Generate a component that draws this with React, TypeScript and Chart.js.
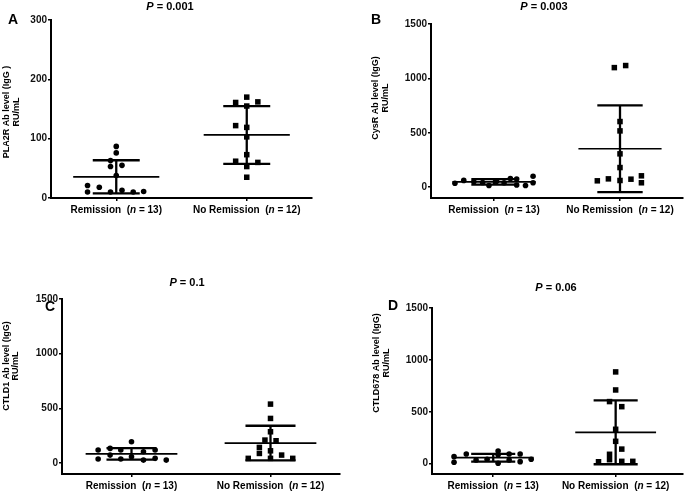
import React, { useEffect, useRef } from 'react';
import { Chart, registerables } from 'chart.js';

Chart.register(...registerables);

// ---------- DATA ----------
const categories = ['Remission', 'No Remission'];
const groupN = [13, 12];

// Panel A: PLA2R Ab level
const pla2rRemission = [87, 76, 63, 55, 53, 38, 21, 18, 10, 10, 13, 10, 11];
const pla2rRemissionJitter = [0, 0, -0.044, 0.044, -0.044, 0, -0.22, -0.13, -0.22, -0.044, 0.044, 0.13, 0.21];
const pla2rNoRemission = [170, 161, 162, 155, 122, 119, 103, 73, 62, 60, 53, 35];
const pla2rNoRemissionJitter = [0, -0.085, 0.085, 0, -0.085, 0, 0, 0, -0.085, 0.085, 0, 0];

// Panel B: CysR Ab level
const cysrRemission = [35, 62, 50, 42, 15, 55, 40, 80, 75, 20, 15, 100, 40];
const cysrRemissionJitter = [-0.31, -0.24, -0.16, -0.09, -0.04, 0.02, 0.08, 0.13, 0.18, 0.18, 0.25, 0.31, 0.31];
const cysrNoRemission = [1099, 1118, 603, 517, 306, 180, 58, 76, 61, 73, 104, 40];
const cysrNoRemissionJitter = [-0.045, 0.045, 0, 0, 0, 0, -0.18, -0.092, 0, 0.087, 0.17, 0.17];

// Panel C: CTLD1 Ab level
const ctld1Remission = [119, 37, 134, 73, 119, 37, 195, 58, 103, 27, 119, 43, 27];
const ctld1RemissionJitter = [-0.24, -0.24, -0.154, -0.154, -0.077, -0.077, 0, 0, 0.086, 0.086, 0.17, 0.17, 0.25];
const ctld1NoRemission = [539, 408, 286, 210, 204, 143, 88, 112, 73, 43, 43, 43];
const ctld1NoRemissionJitter = [0, 0, 0, -0.04, 0.04, -0.08, -0.08, 0, 0.08, -0.16, 0, 0.16];

// Panel D: CTLD678 Ab level
const ctld678Remission = [67, 13, 93, 35, 42, 122, 85, 3, 93, 35, 93, 19, 42];
const ctld678RemissionJitter = [-0.32, -0.32, -0.22, -0.14, -0.05, 0.04, 0.04, 0.04, 0.13, 0.13, 0.22, 0.22, 0.31];
const ctld678NoRemission = [884, 710, 598, 549, 331, 215, 140, 90, 38, 18, 22, 22];
const ctld678NoRemissionJitter = [0, 0, -0.05, 0.05, 0, 0, 0.05, -0.05, -0.05, -0.14, 0.05, 0.14];

const smallTicks = [0, 100, 200, 300];
const largeTicks = [0, 500, 1000, 1500];

// ---------- LAYOUT ----------
const FONT = '"Liberation Sans", Arial, Helvetica, sans-serif';

type Panel = {
  letter: string;
  pValue: string;
  yTitle: string[];
  rem: number[];
  remJ: number[];
  nrem: number[];
  nremJ: number[];
  yMin: number;
  yMax: number;
  yTicks: number[];
  xMax: number;
  pos: { x: number; y: number; w: number; h: number };
  area: { left: number; right: number; top: number; bottom: number };
  letterPos: [number, number];
  titlePos: [number, number];
  yTitlePos: [number, number, number];
};

const panels: Panel[] = [
  {
    letter: 'A', pValue: '0.001', yTitle: ['PLA2R Ab level (IgG )', 'RU/mL'],
    rem: pla2rRemission, remJ: pla2rRemissionJitter, nrem: pla2rNoRemission, nremJ: pla2rNoRemissionJitter,
    yMin: 0, yMax: 300, yTicks: smallTicks, xMax: 2.5,
    pos: { x: 0, y: 0, w: 344, h: 246 },
    area: { left: 51, right: 312, top: 20, bottom: 198 },
    letterPos: [13, 20], titlePos: [170, 7], yTitlePos: [7, 112, 10],
  },
  {
    letter: 'B', pValue: '0.003', yTitle: ['CysR Ab level (IgG)', 'RU/mL'],
    rem: cysrRemission, remJ: cysrRemissionJitter, nrem: cysrNoRemission, nremJ: cysrNoRemissionJitter,
    yMin: -100, yMax: 1500, yTicks: largeTicks, xMax: 2.5,
    pos: { x: 344, y: 0, w: 343, h: 246 },
    area: { left: 87, right: 339, top: 24, bottom: 198 },
    letterPos: [32, 20], titlePos: [200, 7], yTitlePos: [32, 98, 10],
  },
  {
    letter: 'C', pValue: '0.1', yTitle: ['CTLD1 Ab level (IgG)', 'RU/mL'],
    rem: ctld1Remission, remJ: ctld1RemissionJitter, nrem: ctld1NoRemission, nremJ: ctld1NoRemissionJitter,
    yMin: -100, yMax: 1500, yTicks: largeTicks, xMax: 2.5,
    pos: { x: 0, y: 246, w: 344, h: 246 },
    area: { left: 62, right: 340, top: 53, bottom: 228 },
    letterPos: [50, 61], titlePos: [187, 37], yTitlePos: [7, 120, 9],
  },
  {
    letter: 'D', pValue: '0.06', yTitle: ['CTLD678 Ab level (IgG)', 'RU/mL'],
    rem: ctld678Remission, remJ: ctld678RemissionJitter, nrem: ctld678NoRemission, nremJ: ctld678NoRemissionJitter,
    yMin: -100, yMax: 1500, yTicks: largeTicks, xMax: 2.55,
    pos: { x: 344, y: 246, w: 343, h: 246 },
    area: { left: 88, right: 340, top: 62, bottom: 228 },
    letterPos: [49, 60], titlePos: [212, 42], yTitlePos: [33, 117, 10],
  },
];

const MEAN_HALF = 0.33;
const SD_HALF = 0.18;

function meanSd(v: number[]) {
  const m = v.reduce((a, b) => a + b, 0) / v.length;
  const s = Math.sqrt(v.reduce((a, b) => a + (b - m) * (b - m), 0) / (v.length - 1));
  return { m, s };
}

function drawRich(ctx: CanvasRenderingContext2D, parts: { t: string; it?: boolean }[], cx: number, cy: number, size: number) {
  const fontOf = (it?: boolean) => `${it ? 'italic ' : ''}bold ${size}px ${FONT}`;
  let total = 0;
  for (const p of parts) { ctx.font = fontOf(p.it); total += ctx.measureText(p.t).width; }
  let x = cx - total / 2;
  ctx.textAlign = 'left';
  ctx.textBaseline = 'middle';
  for (const p of parts) {
    ctx.font = fontOf(p.it);
    ctx.fillText(p.t, x, cy);
    x += ctx.measureText(p.t).width;
  }
}

const annotPlugin = {
  id: 'annot',
  afterDraw(chart: any, _args: any, opts: any) {
    const p: Panel = opts.panel;
    const ctx: CanvasRenderingContext2D = chart.ctx;
    ctx.save();
    ctx.fillStyle = '#000';
    // panel letter
    ctx.font = `bold 14px ${FONT}`;
    ctx.textAlign = 'center';
    ctx.textBaseline = 'middle';
    ctx.fillText(p.letter, p.letterPos[0], p.letterPos[1]);
    // title
    drawRich(ctx, [{ t: 'P', it: true }, { t: ' = ' + p.pValue }], p.titlePos[0], p.titlePos[1], 11);
    // y title
    ctx.save();
    ctx.translate(p.yTitlePos[0], p.yTitlePos[1]);
    ctx.rotate(-Math.PI / 2);
    ctx.font = `bold 9px ${FONT}`;
    ctx.textAlign = 'center';
    ctx.textBaseline = 'middle';
    p.yTitle.forEach((line, i) => ctx.fillText(line, 0, i * p.yTitlePos[2]));
    ctx.restore();
    // category labels
    const xs = chart.scales.x;
    const yb = chart.chartArea.bottom + 12;
    categories.forEach((c, i) => {
      drawRich(ctx, [{ t: c + '  (' }, { t: 'n', it: true }, { t: ' = ' + groupN[i] + ')' }], xs.getPixelForValue(i + 1), yb, 10);
    });
    ctx.restore();
  },
};

function buildDatasets(p: Panel) {
  const ds: any[] = [];
  const groups = [
    { vals: p.rem, jit: p.remJ, style: 'circle', r: 2.8 },
    { vals: p.nrem, jit: p.nremJ, style: 'rect', r: 3.9 },
  ];
  groups.forEach((g, gi) => {
    const cx = gi + 1;
    const { m, s } = meanSd(g.vals);
    const seg = (pts: { x: number; y: number }[], w: number) => ({
      type: 'line', data: pts, showLine: true, borderColor: '#000', borderWidth: w,
      pointRadius: 0, fill: false, tension: 0, order: 0,
    });
    ds.push(seg([{ x: cx - MEAN_HALF, y: m }, { x: cx + MEAN_HALF, y: m }], 1.7));
    ds.push(seg([{ x: cx - SD_HALF, y: m + s }, { x: cx + SD_HALF, y: m + s }], 2.3));
    ds.push(seg([{ x: cx - SD_HALF, y: m - s }, { x: cx + SD_HALF, y: m - s }], 2.3));
    ds.push(seg([{ x: cx, y: m - s }, { x: cx, y: m + s }], 2.3));
    ds.push({
      type: 'scatter',
      data: g.vals.map((v, i) => ({ x: cx + g.jit[i], y: v })),
      pointStyle: g.style, pointRadius: g.r, backgroundColor: '#000', borderColor: '#000', borderWidth: 0,
      order: 1,
    });
  });
  return ds;
}

function makeChart(canvas: HTMLCanvasElement, p: Panel) {
  const a = p.area;
  const tickGrid = { drawOnChartArea: false, drawTicks: true, tickLength: 3, color: '#000', lineWidth: 1.5 };
  const border = { display: true, color: '#000', width: 2 };
  return new Chart(canvas, {
    type: 'scatter',
    data: { datasets: buildDatasets(p) },
    options: {
      animation: false,
      responsive: false,
      layout: { padding: { left: 0, top: a.top, right: p.pos.w - a.right, bottom: 0 } },
      plugins: {
        legend: { display: false },
        tooltip: { enabled: false },
        annot: { panel: p },
      } as any,
      scales: {
        x: {
          type: 'linear', min: 0.5, max: p.xMax,
          afterBuildTicks: (s: any) => { s.ticks = [{ value: 1 }, { value: 2 }]; },
          ticks: { callback: () => '', padding: 0 },
          grid: tickGrid, border,
          afterFit: (s: any) => { s.height = p.pos.h - a.bottom; },
        },
        y: {
          type: 'linear', min: p.yMin, max: p.yMax,
          afterBuildTicks: (s: any) => { s.ticks = p.yTicks.map((v) => ({ value: v })); },
          ticks: {
            color: '#111', padding: 1,
            font: { family: FONT, weight: 'bold', size: 10 },
            callback: (v: any) => String(v),
          },
          grid: tickGrid, border,
          afterFit: (s: any) => { s.width = a.left; },
        },
      } as any,
    },
    plugins: [annotPlugin],
  } as any);
}

export default function App() {
  const refs = useRef<(HTMLCanvasElement | null)[]>([]);
  useEffect(() => {
    const charts = panels.map((p, i) => makeChart(refs.current[i]!, p));
    return () => charts.forEach((c) => c.destroy());
  }, []);
  return (
    <div style={{ position: 'absolute', left: 0, top: 0, width: 687, height: 492, background: '#fff' }}>
      {panels.map((p, i) => (
        <canvas
          key={p.letter}
          ref={(el) => { refs.current[i] = el; }}
          width={p.pos.w}
          height={p.pos.h}
          style={{ position: 'absolute', left: p.pos.x, top: p.pos.y, width: p.pos.w, height: p.pos.h }}
        />
      ))}
    </div>
  );
}
